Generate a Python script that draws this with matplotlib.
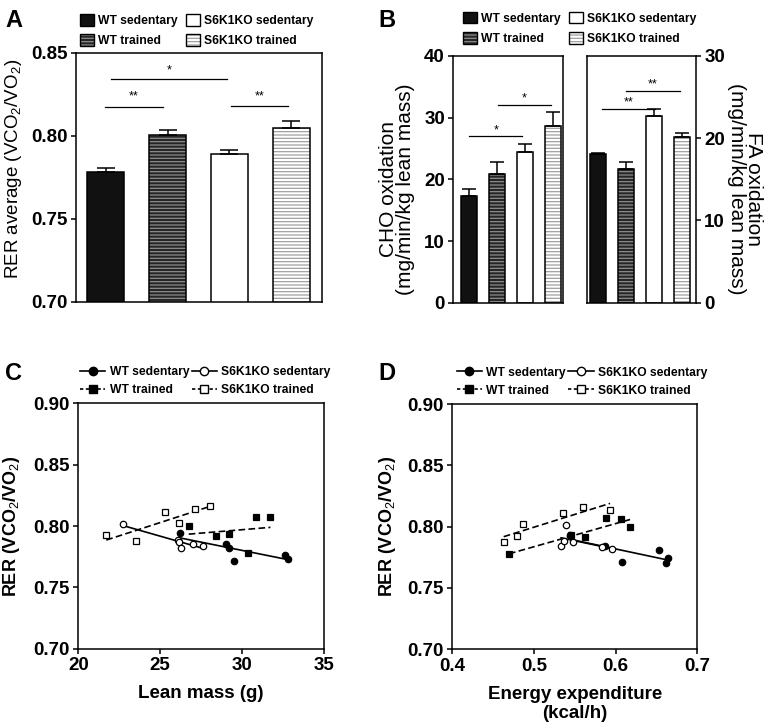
import numpy as np
import matplotlib
matplotlib.use("Agg")
import matplotlib.pyplot as plt
from matplotlib.patches import Patch
from matplotlib.lines import Line2D

plt.rcParams['font.family'] = ['Liberation Sans', 'DejaVu Sans']
plt.rcParams['mathtext.fontset'] = 'custom'
plt.rcParams['mathtext.rm'] = 'Liberation Sans'
plt.rcParams['mathtext.bf'] = 'Liberation Sans:bold'
plt.rcParams['hatch.linewidth'] = 0.9

# ---- data ----
groups = ['WT sedentary', 'WT trained', 'S6K1KO sedentary', 'S6K1KO trained']

rer_mean = [0.7779, 0.8004, 0.7890, 0.8044]
rer_sem = [0.0024, 0.0032, 0.0024, 0.0046]

cho_mean = [17.35, 20.8, 24.5, 28.7]
cho_sem = [1.08, 2.0, 1.2, 2.2]

fa_mean = [18.04, 16.2, 22.66, 20.15]
fa_sem = [0.2, 0.95, 0.84, 0.52]

# lean mass (g) vs RER
lean_wt_sed = [26.23, 29.02, 29.22, 29.50, 32.62, 32.80]
rer_wt_sed_c = [0.794, 0.785, 0.782, 0.7715, 0.7767, 0.7732]
lean_ko_sed = [22.71, 26.07, 26.15, 26.25, 26.98, 27.59]
rer_ko_sed_c = [0.8014, 0.7886, 0.7870, 0.7823, 0.7853, 0.7839]
lean_wt_tr = [26.74, 28.41, 29.22, 30.33, 30.83, 31.73]
rer_wt_tr_c = [0.8003, 0.7921, 0.7938, 0.778, 0.8076, 0.8071]
lean_ko_tr = [21.71, 23.54, 25.30, 26.13, 27.13, 28.02]
rer_ko_tr_c = [0.7927, 0.788, 0.8117, 0.8022, 0.8139, 0.8163]

# energy expenditure (kcal/h) vs RER
ee_wt_sed = [0.5441, 0.587, 0.6081, 0.6527, 0.6645, 0.6617]
rer_wt_sed_d = [0.7935, 0.784, 0.771, 0.781, 0.7748, 0.770]
ee_ko_sed = [0.5392, 0.5331, 0.5371, 0.5478, 0.5829, 0.5952]
rer_ko_sed_d = [0.8011, 0.7844, 0.788, 0.7872, 0.7835, 0.7819]
ee_wt_tr = [0.4694, 0.5453, 0.562, 0.5886, 0.6065, 0.6176]
rer_wt_tr_d = [0.7774, 0.7929, 0.7916, 0.8073, 0.8062, 0.800]
ee_ko_tr = [0.4629, 0.4788, 0.4861, 0.5359, 0.5604, 0.5931]
rer_ko_tr_d = [0.7875, 0.7921, 0.8019, 0.8111, 0.816, 0.8133]

# bar styles: (face, hatch colour, hatch)
bar_style = [('#111111', '#111111', None),
             ('#262626', '#8c8c8c', '-----'),
             ('white', 'white', None),
             ('white', '#a0a0a0', '-----')]

TICK = 13.5
LEG = 8.7


def draw_bars(ax, means, sems, width, capsize):
    x = np.arange(len(means))
    for i in range(len(means)):
        face, hcol, hatch = bar_style[i]
        ax.bar(x[i], means[i], width, color=face, edgecolor=hcol, hatch=hatch, linewidth=0)
        ax.bar(x[i], means[i], width, fill=False, edgecolor='black', linewidth=1.1)
    ax.errorbar(x, means, yerr=[np.zeros(len(sems)), sems], fmt='none',
                ecolor='black', elinewidth=1.1, capsize=capsize, capthick=1.1)


def sig(ax, x0, x1, y, ytxt, txt):
    ax.plot([x0, x1], [y, y], color='black', lw=0.9)
    ax.text((x0 + x1) / 2, ytxt, txt, ha='center', va='center', fontsize=9)


def style_box(ax, lw=1.1):
    for s in ax.spines.values():
        s.set_linewidth(lw)
    ax.tick_params(direction='out', length=3.5, width=1.1, labelsize=TICK, pad=2.5)
    for lab in ax.get_xticklabels() + ax.get_yticklabels():
        lab.set_fontweight('bold')


def bar_handles():
    hs = []
    for face, hcol, hatch in bar_style:
        hs.append((Patch(facecolor=face, edgecolor=hcol, hatch=hatch, linewidth=0),
                   Patch(fill=False, edgecolor='black', linewidth=1.0)))
    return hs


def bar_legend(ax, x, y):
    leg = ax.legend(bar_handles(), groups, ncol=2, loc='lower left', bbox_to_anchor=(x, y),
                    frameon=False, handlelength=1.15, handleheight=1.1,
                    handletextpad=0.35, columnspacing=0.7, labelspacing=0.6,
                    borderpad=0, borderaxespad=0, prop={'weight': 'bold', 'size': LEG})
    return leg


fig = plt.figure(figsize=(7.72, 7.28), dpi=100)

# ---- A ----
axA = fig.add_axes([0.0984, 0.5856, 0.3183, 0.342])
draw_bars(axA, rer_mean, rer_sem, 0.59, 6.8)
axA.set_xlim(-0.48, 3.49)
axA.set_ylim(0.70, 0.85)
axA.set_yticks([0.70, 0.75, 0.80, 0.85])
axA.set_yticklabels(['0.70', '0.75', '0.80', '0.85'])
axA.set_xticks([])
axA.set_ylabel(r'RER average (VCO$_2$/VO$_2$)', fontsize=13.5)
axA.yaxis.set_label_coords(-0.212, 0.535)
style_box(axA)
sig(axA, 0.085, 1.96, 0.834, 0.8396, '*')
sig(axA, -0.01, 0.92, 0.8175, 0.8235, '**')
sig(axA, 2.02, 2.95, 0.8178, 0.8238, '**')
bar_legend(axA, 0.016, 1.023)

# ---- B ----
axB1 = fig.add_axes([0.5872, 0.5842, 0.1425, 0.3389])
draw_bars(axB1, cho_mean, cho_sem, 0.58, 4.8)
axB1.set_xlim(-0.57, 3.38)
axB1.set_ylim(0, 40)
axB1.set_yticks([0, 10, 20, 30, 40])
axB1.set_xticks([])
axB1.set_ylabel('CHO oxidation\n(mg/min/kg lean mass)', fontsize=15, linespacing=0.9)
axB1.yaxis.set_label_coords(-0.345, 0.46)
style_box(axB1)
sig(axB1, 0.0, 1.91, 27.0, 28.0, '*')
sig(axB1, 1.02, 2.95, 32.1, 33.1, '*')
bar_legend(axB1, 0.088, 1.045)

axB2 = fig.add_axes([0.76, 0.5842, 0.1416, 0.3389])
draw_bars(axB2, fa_mean, fa_sem, 0.58, 4.8)
axB2.set_xlim(-0.41, 3.49)
axB2.set_ylim(0, 30)
axB2.set_yticks([0, 10, 20, 30])
axB2.set_xticks([])
axB2.yaxis.tick_right()
axB2.yaxis.set_label_position('right')
axB2.set_ylabel('FA oxidation\n(mg/min/kg lean mass)', fontsize=15, rotation=270,
                linespacing=0.9, va='center')
axB2.yaxis.set_label_coords(1.45, 0.46)
style_box(axB2)
sig(axB2, 0.13, 2.03, 23.6, 24.4, '**')
sig(axB2, 0.99, 2.92, 25.8, 26.6, '**')

# ---- C & D ----
def scatter_panel(ax, xs, ys):
    specs = [('-', 'o', 'black', 4.6), ('--', 's', 'black', 4.0),
             ('-', 'o', 'white', 4.6), ('--', 's', 'white', 4.0)]
    for (xv, yv), (ls, mk, mfc, ms) in zip(zip(xs, ys), specs):
        xv = np.array(xv)
        yv = np.array(yv)
        k, b = np.polyfit(xv, yv, 1)
        xx = np.array([xv.min(), xv.max()])
        if ls == '--':
            ax.plot(xx, k * xx + b, color='black', lw=1.2, dashes=(4, 2))
        else:
            ax.plot(xx, k * xx + b, color='black', lw=1.2)
        ax.plot(xv, yv, ls='none', marker=mk, ms=ms, mfc=mfc, mec='black', mew=0.9)


def scatter_legend(ax, x, y):
    hs = [Line2D([], [], color='k', lw=1.2, marker='o', ms=6, mfc='black', mec='black'),
          Line2D([], [], color='k', lw=1.2, dashes=(2, 1.5), marker='s', ms=5.5, mfc='black', mec='black'),
          Line2D([], [], color='k', lw=1.2, marker='o', ms=6, mfc='white', mec='black'),
          Line2D([], [], color='k', lw=1.2, dashes=(2, 1.5), marker='s', ms=5.5, mfc='white', mec='black')]
    ax.legend(hs, groups, ncol=2, loc='lower left', bbox_to_anchor=(x, y), frameon=False,
              handlelength=2.1, handletextpad=0.35, columnspacing=0.2, labelspacing=0.5,
              borderpad=0, borderaxespad=0, prop={'weight': 'bold', 'size': LEG})


axC = fig.add_axes([0.1014, 0.1089, 0.3183, 0.3371])
scatter_panel(axC, [lean_wt_sed, lean_wt_tr, lean_ko_sed, lean_ko_tr],
              [rer_wt_sed_c, rer_wt_tr_c, rer_ko_sed_c, rer_ko_tr_c])
axC.set_xlim(20, 35)
axC.set_ylim(0.70, 0.90)
axC.set_xticks([20, 25, 30, 35])
axC.set_yticks([0.70, 0.75, 0.80, 0.85, 0.90])
axC.set_yticklabels(['0.70', '0.75', '0.80', '0.85', '0.90'])
axC.set_xlabel('Lean mass (g)', fontsize=13.5, fontweight='bold', labelpad=8)
axC.set_ylabel(r'RER (VCO$_2$/VO$_2$)', fontsize=13, fontweight='bold')
axC.yaxis.set_label_coords(-0.228, 0.5)
style_box(axC)
scatter_legend(axC, 0.007, 1.03)

axD = fig.add_axes([0.5859, 0.1081, 0.3174, 0.3369])
scatter_panel(axD, [ee_wt_sed, ee_wt_tr, ee_ko_sed, ee_ko_tr],
              [rer_wt_sed_d, rer_wt_tr_d, rer_ko_sed_d, rer_ko_tr_d])
axD.set_xlim(0.4, 0.7)
axD.set_ylim(0.70, 0.90)
axD.set_xticks([0.4, 0.5, 0.6, 0.7])
axD.set_xticklabels(['0.4', '0.5', '0.6', '0.7'])
axD.set_yticks([0.70, 0.75, 0.80, 0.85, 0.90])
axD.set_yticklabels(['0.70', '0.75', '0.80', '0.85', '0.90'])
axD.set_xlabel('Energy expenditure\n(kcal/h)', fontsize=13.5, fontweight='bold',
               labelpad=8, linespacing=1.2)
axD.set_ylabel(r'RER (VCO$_2$/VO$_2$)', fontsize=13, fontweight='bold')
axD.yaxis.set_label_coords(-0.222, 0.5)
style_box(axD)
scatter_legend(axD, 0.018, 1.03)

# panel letters
for lab, x, y in [('A', 5, 27), ('B', 378, 27), ('C', 5, 380), ('D', 378, 380)]:
    fig.text(x / 772, 1 - y / 728, lab, fontsize=17, fontweight='bold', ha='left', va='baseline')

fig.savefig('out.png', dpi=100)
